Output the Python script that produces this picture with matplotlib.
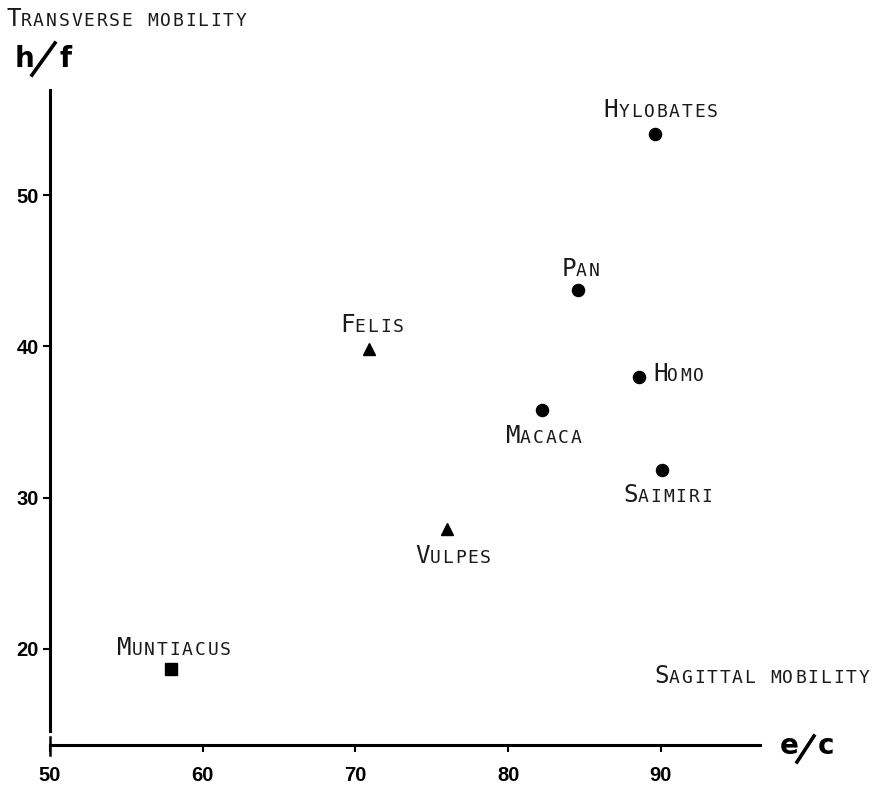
import matplotlib
matplotlib.use("Agg")
import matplotlib.pyplot as plt
from matplotlib.transforms import offset_copy
from matplotlib.lines import Line2D

# data
genera   = ["Hylobates", "Pan", "Felis", "Homo", "Macaca", "Saimiri", "Vulpes", "Muntiacus"]
sagittal = [89.6, 84.6, 70.9, 88.6, 82.2, 90.1, 76.0, 57.9]     # e/c
transv   = [54.0, 43.7, 39.8, 38.0, 35.8, 31.8, 27.9, 18.7]     # h/f
markers  = ["o", "o", "^", "o", "o", "o", "^", "s"]
xticks = [50, 60, 70, 80, 90]
yticks = [20, 30, 40, 50]

# label placement (points offset from marker, alignment)
label_pos = {
    "Hylobates": (5, 12.5, "center"),
    "Pan":       (2, 10, "center"),
    "Felis":     (2.5, 12.5, "center"),
    "Homo":      (10.5, -3.5, "left"),
    "Macaca":    (2, -24, "center"),
    "Saimiri":   (4.5, -23, "center"),
    "Vulpes":    (5, -24, "center"),
    "Muntiacus": (3, 10, "center"),
}

LETTER = "DejaVu Sans Mono"
PITCH = 9.1      # pt per character cell
BIG, SMALL = 17.5, 13


def smallcaps(fig, base_tr, x, y, word, ha="center", dx=0, dy=0):
    """Hand-lettered small caps: first letter large, the rest small capitals."""
    word = word.upper()
    width = PITCH * len(word)
    if ha == "center":
        start = dx - width / 2
    elif ha == "right":
        start = dx - width
    else:
        start = dx
    for i, ch in enumerate(word):
        if ch == " ":
            continue
        tr = offset_copy(base_tr, fig=fig, x=start + PITCH * (i + 0.5), y=dy, units="points")
        fig.text(x, y, ch, transform=tr, ha="center", va="baseline",
                 fontsize=BIG if i == 0 else SMALL, family=LETTER, color="#1a1a1a")


W, H = 875, 787
fig = plt.figure(figsize=(W / 100, H / 100), dpi=100)
ax = fig.add_axes([50 / W, 1 - 745 / H, 710 / W, 655 / H])
ax.set_xlim(50, 96.5)
ax.set_ylim(13.65, 56.94)

for g, x, y, m in zip(genera, sagittal, transv, markers):
    ax.plot(x, y, marker=m, ms=8.7 if m == "o" else 8, color="black",
            linestyle="none", clip_on=False)
    dx, dy, ha = label_pos[g]
    smallcaps(fig, ax.transData, x, y, g, ha=ha, dx=dx, dy=dy)

for s in ["top", "right"]:
    ax.spines[s].set_visible(False)
for s in ["left", "bottom"]:
    ax.spines[s].set_linewidth(2.2)
ax.spines["left"].set_bounds(14.6, 56.94)

ax.set_xticks(xticks)
ax.set_yticks(yticks)
ax.tick_params(axis="x", direction="out", length=5, width=1.5, pad=10)
ax.tick_params(axis="y", direction="out", length=5, width=1.5, pad=3)
for lab in ax.get_xticklabels() + ax.get_yticklabels():
    lab.set_fontsize(14.5)
    lab.set_fontweight("bold")
    lab.set_family("Liberation Sans")

# small end tick at the origin of the x axis
ax.plot([0, 0], [-0.016, 0.012], transform=ax.transAxes, color="black",
        lw=1.8, clip_on=False)

# axis titles
smallcaps(fig, fig.transFigure, 7 / W, 1 - 26 / H, "Transverse mobility", ha="left")
smallcaps(fig, fig.transFigure, 870 / W, 1 - 683 / H, "Sagittal mobility", ha="right")


def ratio(x0, y0, num, den, gap=44, top=24):
    # bold ratio symbol with a long thin slash
    fig.text(x0 / W, 1 - y0 / H, num, fontsize=20, fontweight="bold",
             family="DejaVu Sans", ha="left", va="baseline")
    fig.text((x0 + gap) / W, 1 - y0 / H, den, fontsize=20, fontweight="bold",
             family="DejaVu Sans", ha="left", va="baseline")
    fig.add_artist(Line2D([(x0 + 17) / W, (x0 + gap - 4) / W],
                          [1 - (y0 + 8) / H, 1 - (y0 - top) / H],
                          transform=fig.transFigure, color="black", lw=2.6))


ratio(15, 67, "h", "f")
ratio(780, 754, "e", "c", gap=38, top=18)

fig.savefig("out.png", dpi=100)
